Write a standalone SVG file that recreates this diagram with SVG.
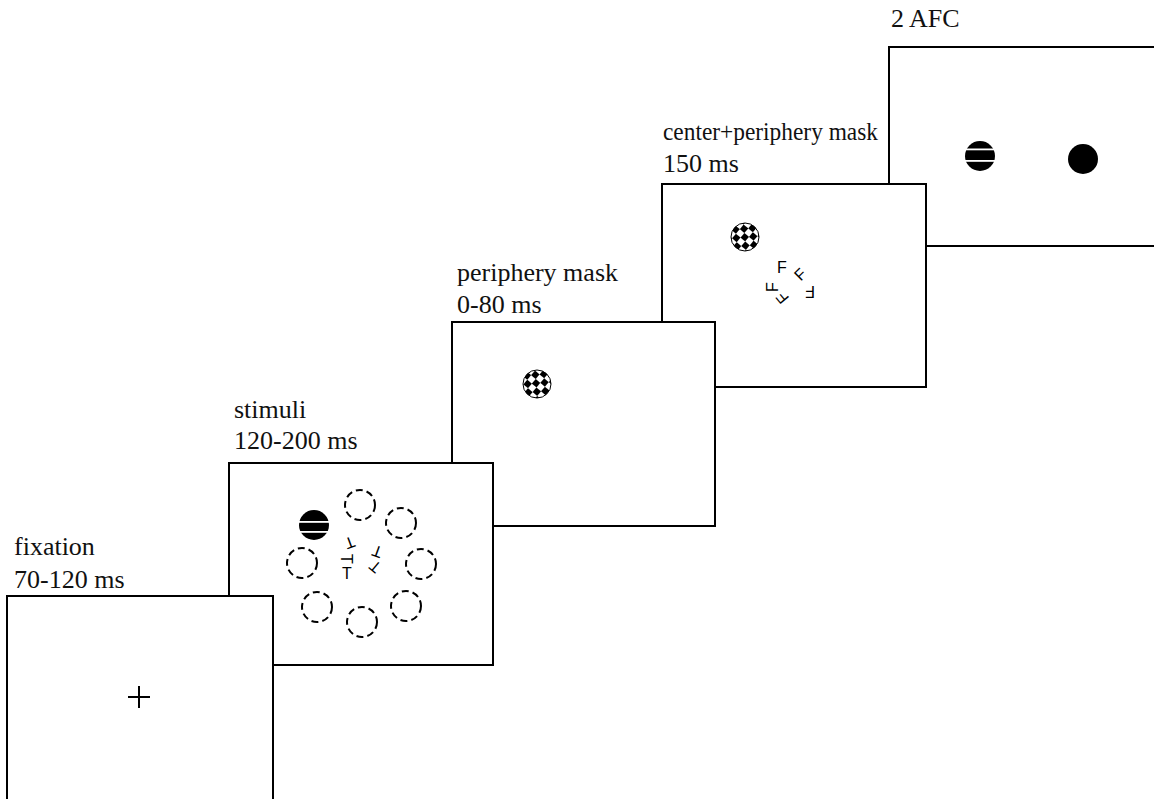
<svg xmlns="http://www.w3.org/2000/svg" width="1154" height="799" viewBox="0 0 1154 799">
<style>
.panel{fill:#fff;stroke:#000;stroke-width:2}
.lbl{font-family:"Liberation Serif","Times New Roman",serif;font-size:26px;fill:#111}
.dash{fill:none;stroke:#000;stroke-width:2;stroke-dasharray:7 4}
.let{font-family:"Liberation Sans",Arial,sans-serif;font-size:16px;fill:#000;text-anchor:middle}
.chk{fill:url(#chk);stroke:#000;stroke-width:1}
</style>
<defs>
<pattern id="chk" patternUnits="userSpaceOnUse" width="12" height="12" patternTransform="rotate(40)">
<rect width="12" height="12" fill="#fff"/>
<rect width="6" height="6" fill="#000"/>
<rect x="6" y="6" width="6" height="6" fill="#000"/>
</pattern>
</defs>
<rect width="1154" height="799" fill="#fff"/>

<g id="afc">
<rect class="panel" x="889" y="47" width="275" height="199"/>
<circle cx="980" cy="156" r="15" fill="#000"/>
<rect x="965" y="148.5" width="30" height="1.8" fill="#fff"/>
<rect x="965" y="160" width="30" height="1.8" fill="#fff"/>
<circle cx="1083" cy="159" r="15" fill="#000"/>
<text class="lbl" x="891" y="27">2 AFC</text>
</g>

<g id="centerperiphery">
<rect class="panel" x="662" y="184" width="264" height="203"/>
<circle class="chk" cx="745" cy="237" r="14"/>
<text class="let" x="782" y="273">F</text>
<text class="let" transform="translate(800,274) rotate(-45)" y="6">F</text>
<text class="let" transform="translate(810,292) rotate(180)" y="6">F</text>
<text class="let" transform="translate(772,287) rotate(-90)" y="6">F</text>
<text class="let" transform="translate(782,298) rotate(-130)" y="6">F</text>
<text class="lbl" x="663" y="140" textLength="215" lengthAdjust="spacingAndGlyphs">center+periphery mask</text>
<text class="lbl" x="663" y="172">150 ms</text>
</g>

<g id="peripherymask">
<rect class="panel" x="452" y="322" width="263" height="204"/>
<circle class="chk" cx="537" cy="384" r="14"/>
<text class="lbl" x="457" y="281">periphery mask</text>
<text class="lbl" x="457" y="313">0-80 ms</text>
</g>

<g id="stimuli">
<rect class="panel" x="229" y="463" width="264" height="202"/>
<circle cx="314" cy="525" r="15" fill="#000"/>
<rect x="299" y="521" width="30" height="1.8" fill="#fff"/>
<rect x="299" y="531" width="30" height="1.8" fill="#fff"/>
<circle class="dash" cx="360" cy="505" r="15"/>
<circle class="dash" cx="401" cy="523" r="15"/>
<circle class="dash" cx="421" cy="564" r="15"/>
<circle class="dash" cx="406" cy="606" r="15"/>
<circle class="dash" cx="362" cy="622" r="15"/>
<circle class="dash" cx="317" cy="607" r="15"/>
<circle class="dash" cx="302" cy="563" r="15"/>
<text class="let" transform="translate(350,543) rotate(160)" y="6">T</text>
<text class="let" transform="translate(347,559) rotate(90)" y="6">T</text>
<text class="let" x="347" y="579">T</text>
<text class="let" transform="translate(377,552) rotate(200)" y="6">T</text>
<text class="let" transform="translate(375,567) rotate(-140)" y="6">T</text>
<text class="lbl" x="234" y="418">stimuli</text>
<text class="lbl" x="234" y="449">120-200 ms</text>
</g>

<g id="fixation">
<rect class="panel" x="7" y="596" width="266" height="210"/>
<path d="M128 697H150M139 686V708" stroke="#000" stroke-width="2"/>
<text class="lbl" x="14" y="555">fixation</text>
<text class="lbl" x="14" y="588">70-120 ms</text>
</g>

<g id="connectors"></g>
</svg>
